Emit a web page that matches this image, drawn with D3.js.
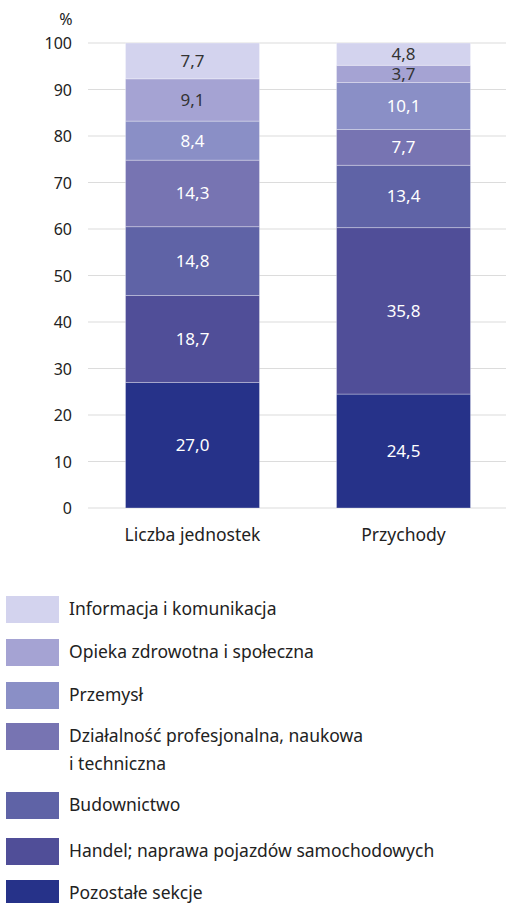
<!DOCTYPE html>
<html>
<head>
<meta charset="utf-8">
<script src="https://cdn.jsdelivr.net/npm/d3@7"></script>
<style>
  body { margin: 0; background: #fff; }
  svg { display: block; font-family: "Noto Sans", "Open Sans", sans-serif; }
</style>
</head>
<body>
<svg id="chart" width="506" height="903"></svg>
<script>
// data
var categories = ["Liczba jednostek", "Przychody"];
var sections = ["Pozostałe sekcje", "Handel; naprawa pojazdów samochodowych", "Budownictwo",
  "Działalność profesjonalna, naukowa i techniczna", "Przemysł", "Opieka zdrowotna i społeczna",
  "Informacja i komunikacja"];
var liczba = [27.0, 18.7, 14.8, 14.3, 8.4, 9.1, 7.7];
var przychody = [24.5, 35.8, 13.4, 7.7, 10.1, 3.7, 4.8];
var yTicks = [0, 10, 20, 30, 40, 50, 60, 70, 80, 90, 100];
var colors = ["#263289", "#504e98", "#5f63a6", "#7774b2", "#8a8fc6", "#a5a3d3", "#d3d3ee"];
var darkText = [false, false, false, false, false, true, true];

var svg = d3.select("#chart");

var y = d3.scaleLinear().domain([0, 100]).range([508, 43]);
var barW = 134;
var barX = { "Liczba jednostek": 125.5, "Przychody": 336.5 };

// gridlines
svg.append("g").selectAll("line")
  .data(yTicks).enter().append("line")
  .attr("x1", 88).attr("x2", 506)
  .attr("y1", function(d) { return y(d); })
  .attr("y2", function(d) { return y(d); })
  .attr("stroke", "#dcdcdc").attr("stroke-width", 1.2);

// y axis labels
svg.append("g").selectAll("text")
  .data(yTicks).enter().append("text")
  .attr("x", 72)
  .attr("y", function(d) { return y(d) + 6; })
  .attr("text-anchor", "end")
  .attr("font-size", 16)
  .attr("fill", "#222")
  .text(function(d) { return d; });

svg.append("text").attr("x", 66).attr("y", 25)
  .attr("text-anchor", "middle").attr("font-size", 16).attr("fill", "#222").text("%");

// stack
var table = categories.map(function(c, ci) {
  var vals = ci == 0 ? liczba : przychody;
  var o = { cat: c };
  sections.forEach(function(s, i) { o[s] = vals[i]; });
  return o;
});
var stack = d3.stack().keys(sections)(table);

stack.forEach(function(layer, li) {
  var g = svg.append("g");
  g.selectAll("rect").data(layer).enter().append("rect")
    .attr("x", function(d) { return barX[d.data.cat]; })
    .attr("width", barW)
    .attr("y", function(d) { return y(d[1]); })
    .attr("height", function(d) { return y(d[0]) - y(d[1]); })
    .attr("fill", colors[li])
    .attr("stroke", "rgba(255,255,255,0.3)")
    .attr("stroke-width", 1);
  g.selectAll("text").data(layer).enter().append("text")
    .attr("x", function(d) { return barX[d.data.cat] + barW / 2; })
    .attr("y", function(d) { return (y(d[0]) + y(d[1])) / 2 + 6; })
    .attr("text-anchor", "middle")
    .attr("font-size", 17)
    .attr("fill", darkText[li] ? "#333" : "#fff")
    .text(function(d) { return d3.format(".1f")(d[1] - d[0]).replace(".", ","); });
});

// category labels
svg.append("g").selectAll("text")
  .data(categories).enter().append("text")
  .attr("x", function(d) { return barX[d] + barW / 2; })
  .attr("y", 541)
  .attr("text-anchor", "middle")
  .attr("font-size", 17.5)
  .attr("fill", "#222")
  .text(function(d) { return d; });

// legend (top to bottom)
var legendTops = [596, 639, 682, 723, 792, 838, 880];
var legendItems = sections.map(function(s, i) { return { name: s, color: colors[i] }; }).reverse();
var leg = svg.append("g");
legendItems.forEach(function(d, i) {
  var top = legendTops[i];
  leg.append("rect").attr("x", 6).attr("y", top).attr("width", 53).attr("height", 27).attr("fill", d.color);
  var t = leg.append("text").attr("x", 69).attr("y", top + 19).attr("font-size", 17.5).attr("fill", "#222");
  if (d.name.indexOf("Działalność") == 0) {
    t.append("tspan").attr("x", 69).text("Działalność profesjonalna, naukowa");
    t.append("tspan").attr("x", 69).attr("dy", 28).text("i techniczna");
  } else {
    t.text(d.name);
  }
});
</script>
</body>
</html>
